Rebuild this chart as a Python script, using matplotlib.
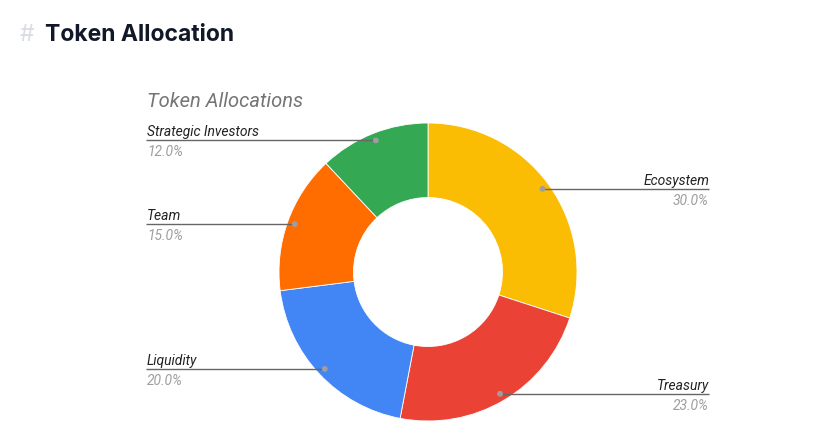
import numpy as np
import matplotlib
matplotlib.use("Agg")
import matplotlib.pyplot as plt
from matplotlib.patches import Circle

categories = ["Ecosystem", "Treasury", "Liquidity", "Team", "Strategic Investors"]
values = [30.0, 23.0, 20.0, 15.0, 12.0]
colors = ["#FBBC04", "#EA4335", "#4285F4", "#FF6D01", "#34A853"]

W, H = 822, 448
fig = plt.figure(figsize=(W / 100, H / 100), dpi=100)
ax = fig.add_axes([0, 0, 1, 1])
ax.set_xlim(0, W)
ax.set_ylim(0, H)
ax.set_aspect("equal")
ax.axis("off")

cx, cy = 428, H - 272
R = 149
ax.pie(values, colors=colors, startangle=90, counterclock=False,
       center=(cx, cy), radius=R, frame=True,
       wedgeprops=dict(width=R * 0.5, edgecolor="white", linewidth=0.6))
ax.set_xlim(0, W)
ax.set_ylim(0, H)
ax.axis("off")

# header
fig.text(20 / W, 1 - 35 / H, "#", fontsize=16.5, color="#d9dce1",
         family="Inter", va="center", ha="left")
fig.text(45 / W, 1 - 35 / H, "Token Allocation", fontsize=16.5, color="#111827",
         family="Inter", fontweight="bold", va="center", ha="left")

# chart title
ax.text(147, H - 101, "Token Allocations", fontsize=14.5, color="#757575",
        family="Roboto", style="italic", va="center", ha="left")

total = sum(values)
cum = 0.0
for name, v in zip(categories, values):
    mid = (cum + v / 2) / total * 360.0
    cum += v
    th = np.deg2rad(mid)
    r = R * 0.95
    dx = cx + r * np.sin(th)
    dy = cy + r * np.cos(th)
    ax.add_patch(Circle((dx, dy), 2.2, color="#9e9e9e", zorder=5))
    if np.sin(th) >= 0:
        xe = 709
        ha = "right"
    else:
        xe = 146
        ha = "left"
    ax.plot([dx, xe], [dy, dy], color="#666666", lw=1.0, zorder=4,
            solid_capstyle="butt")
    ax.text(xe + (0 if ha == "right" else 1), dy + 1, name, fontsize=10,
            color="#222222", family="Roboto", style="italic",
            ha=ha, va="bottom")
    ax.text(xe + (0 if ha == "right" else 1), dy - 5, f"{v:.1f}%", fontsize=10,
            color="#9e9e9e", family="Roboto", style="italic",
            ha=ha, va="top")

fig.savefig("out.png", dpi=100)
